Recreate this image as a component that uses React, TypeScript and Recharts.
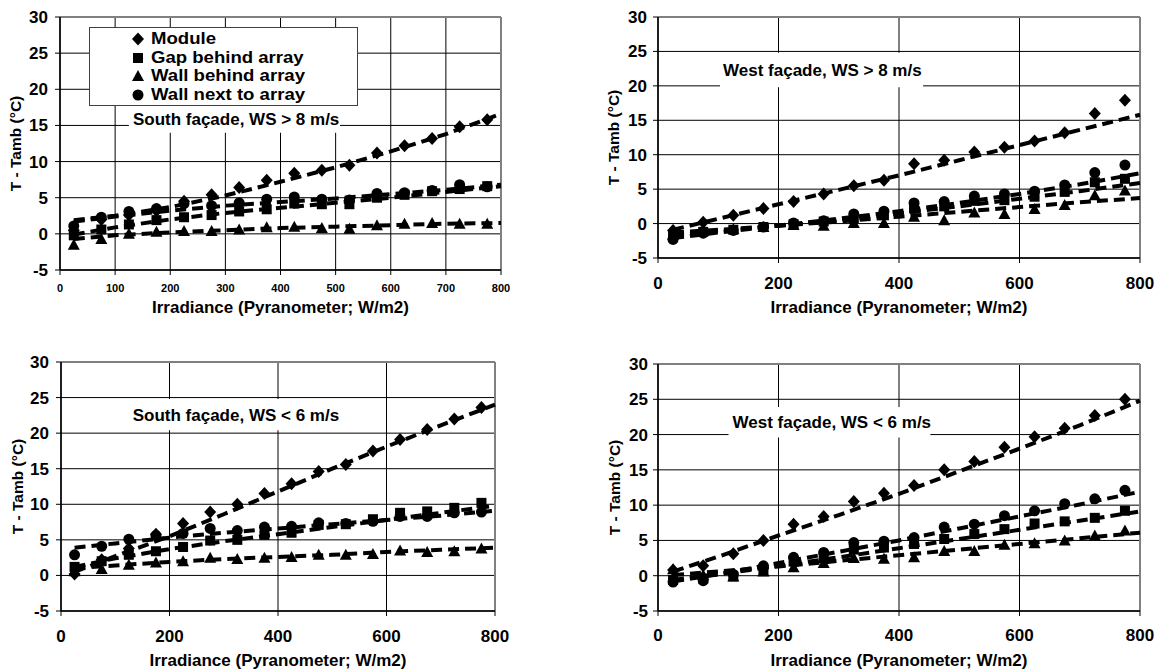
import {
  ScatterChart,
  Scatter,
  XAxis,
  YAxis,
  CartesianGrid,
  ReferenceArea,
  ReferenceLine,
  Legend,
} from 'recharts'

// measured irradiance bins (W/m2) and the x of the read-off trendline points
const IRRADIANCE = [25, 75, 125, 175, 225, 275, 325, 375, 425, 475, 525, 575, 625, 675, 725, 775]
const TREND_IRRADIANCE = [25, 100, 200, 300, 400, 500, 600, 700, 800]

const X_TICKS_100 = [0, 100, 200, 300, 400, 500, 600, 700, 800]
const X_TICKS_200 = [0, 200, 400, 600, 800]
const Y_TICKS = [-5, 0, 5, 10, 15, 20, 25, 30]

const SERIES_NAMES = ['Module', 'Gap behind array', 'Wall behind array', 'Wall next to array']

// South façade, WS > 8 m/s
const SOUTH_HI_MODULE = [0.5, 2.0, 2.6, 3.2, 4.5, 5.4, 6.4, 7.4, 8.4, 8.8, 9.5, 11.2, 12.2, 13.2, 14.8, 15.8]
const SOUTH_HI_GAP = [-0.2, 0.6, 1.3, 1.9, 2.3, 2.6, 3.1, 3.4, 4.2, 4.1, 4.1, 5.0, 5.4, 5.9, 6.2, 6.6]
const SOUTH_HI_WALL_BEHIND = [-1.5, -0.7, 0.0, 0.3, 0.4, 0.4, 0.6, 0.9, 1.0, 0.8, 0.7, 1.2, 1.4, 1.5, 1.4, 1.4]
const SOUTH_HI_WALL_NEXT = [1.1, 2.3, 3.1, 3.5, 4.2, 3.9, 4.3, 4.8, 5.1, 4.8, 4.7, 5.6, 5.7, 6.0, 6.8, 6.5]
const SOUTH_HI_MODULE_TREND = [1.9, 2.5, 3.7, 5.3, 7.2, 9.2, 11.4, 13.8, 16.6]
const SOUTH_HI_GAP_TREND = [-0.1, 0.9, 2.0, 2.9, 3.6, 4.3, 5.0, 5.8, 6.6]
const SOUTH_HI_WALL_BEHIND_TREND = [-0.7, -0.2, 0.2, 0.5, 0.8, 1.0, 1.2, 1.4, 1.5]
const SOUTH_HI_WALL_NEXT_TREND = [1.7, 2.4, 3.2, 3.9, 4.4, 4.9, 5.5, 6.1, 6.8]

// West façade, WS > 8 m/s
const WEST_HI_MODULE = [-1.0, 0.2, 1.2, 2.2, 3.2, 4.3, 5.5, 6.3, 8.7, 9.2, 10.4, 11.1, 12.0, 13.2, 16.0, 17.9]
const WEST_HI_GAP = [-1.7, -1.2, -0.9, -0.5, -0.1, 0.3, 0.8, 1.2, 2.2, 2.5, 3.3, 3.4, 3.9, 4.6, 6.0, 6.5]
const WEST_HI_WALL_BEHIND = [-1.6, -1.0, -0.8, -0.5, -0.2, -0.3, 0.1, 0.1, 1.0, 0.5, 1.6, 1.4, 2.1, 2.7, 4.1, 4.8]
const WEST_HI_WALL_NEXT = [-2.3, -1.4, -1.0, -0.5, 0.1, 0.4, 1.4, 1.8, 3.0, 3.2, 4.0, 4.3, 4.7, 5.6, 7.4, 8.5]
const WEST_HI_MODULE_TREND = [-0.9, 0.7, 2.8, 4.9, 7.0, 9.2, 11.4, 13.6, 15.8]
const WEST_HI_GAP_TREND = [-1.7, -1.1, -0.3, 0.5, 1.5, 2.5, 3.6, 4.7, 5.9]
const WEST_HI_WALL_BEHIND_TREND = [-1.3, -0.9, -0.3, 0.3, 1.0, 1.7, 2.4, 3.1, 3.7]
const WEST_HI_WALL_NEXT_TREND = [-2.1, -1.3, -0.3, 0.7, 1.8, 3.0, 4.3, 5.7, 7.3]

// South façade, WS < 6 m/s
const SOUTH_LO_MODULE = [0.2, 2.2, 3.8, 5.8, 7.3, 8.9, 10.0, 11.5, 12.9, 14.6, 15.6, 17.5, 19.1, 20.5, 22.0, 23.6]
const SOUTH_LO_GAP = [1.2, 2.0, 2.9, 3.4, 4.0, 4.9, 5.0, 5.7, 6.0, 7.1, 7.2, 7.9, 8.8, 9.0, 9.5, 10.2]
const SOUTH_LO_WALL_BEHIND = [0.6, 0.9, 1.5, 1.8, 2.0, 2.5, 2.3, 2.5, 2.6, 2.9, 2.9, 3.0, 3.5, 3.3, 3.4, 3.8]
const SOUTH_LO_WALL_NEXT = [2.9, 4.1, 5.1, 5.6, 5.9, 6.6, 6.3, 6.8, 6.9, 7.4, 7.3, 7.6, 8.3, 8.3, 8.8, 8.9]
const SOUTH_LO_MODULE_TREND = [0.5, 2.7, 5.5, 8.6, 11.8, 15.0, 18.1, 21.1, 24.0]
const SOUTH_LO_GAP_TREND = [1.2, 2.4, 3.7, 4.8, 5.8, 6.8, 7.8, 8.8, 9.8]
const SOUTH_LO_WALL_BEHIND_TREND = [1.0, 1.4, 1.9, 2.3, 2.6, 2.9, 3.3, 3.6, 3.9]
const SOUTH_LO_WALL_NEXT_TREND = [3.9, 4.5, 5.3, 6.0, 6.6, 7.2, 7.8, 8.4, 9.1]

// West façade, WS < 6 m/s
const WEST_LO_MODULE = [0.8, 1.4, 3.1, 5.0, 7.3, 8.4, 10.5, 11.7, 12.8, 15.0, 16.2, 18.2, 19.7, 20.9, 22.7, 25.0]
const WEST_LO_GAP = [-0.6, -0.4, -0.1, 0.8, 2.0, 2.5, 3.7, 4.0, 4.5, 5.2, 5.9, 6.6, 7.4, 7.7, 8.2, 9.2]
const WEST_LO_WALL_BEHIND = [0.9, 0.1, -0.1, 0.6, 1.2, 1.8, 2.5, 2.4, 2.6, 3.5, 3.5, 4.4, 4.6, 5.0, 5.7, 6.4]
const WEST_LO_WALL_NEXT = [-0.9, -0.7, 0.2, 1.4, 2.6, 3.3, 4.7, 4.9, 5.4, 6.9, 7.3, 8.5, 9.2, 10.2, 10.9, 12.1]
const WEST_LO_MODULE_TREND = [0.6, 2.7, 5.7, 8.6, 11.6, 14.8, 18.0, 21.3, 24.8]
const WEST_LO_GAP_TREND = [-0.6, 0.2, 1.4, 2.6, 3.9, 5.2, 6.5, 7.8, 9.1]
const WEST_LO_WALL_BEHIND_TREND = [0.1, 0.6, 1.3, 2.1, 2.9, 3.7, 4.5, 5.3, 6.1]
const WEST_LO_WALL_NEXT_TREND = [-0.8, 0.2, 1.8, 3.4, 5.0, 6.7, 8.4, 10.1, 11.9]

const FONT = '"Liberation Sans", Arial, Helvetica, sans-serif'
const GRID = '#000'
const FRAME = '#808080'

const toPoints = (xs: number[], ys: number[]) => xs.map((x, i) => ({ x, y: ys[i] }))

// marker shapes
function Diamond({ cx, cy }: any) {
  return <polygon points={`${cx},${cy - 6.5} ${cx + 6},${cy} ${cx},${cy + 6.5} ${cx - 6},${cy}`} fill="#000" />
}
function Square({ cx, cy }: any) {
  return <rect x={cx - 5} y={cy - 5} width={10} height={10} fill="#000" />
}
function Triangle({ cx, cy }: any) {
  return <polygon points={`${cx},${cy - 6} ${cx + 6},${cy + 5} ${cx - 6},${cy + 5}`} fill="#000" />
}
function Dot({ cx, cy }: any) {
  return <circle cx={cx} cy={cy} r={5.5} fill="#000" />
}
const SHAPES = [Diamond, Square, Triangle, Dot]
const NoMarker = () => <g />

function LegendBox() {
  return (
    <div
      style={{
        boxSizing: 'border-box',
        width: 269,
        height: 79,
        border: '1px solid #404040',
        background: '#fff',
        paddingTop: 2,
        fontFamily: FONT,
        fontSize: 16,
        fontWeight: 700,
        color: '#000',
      }}
    >
      {SERIES_NAMES.map((name, i) => {
        const Shape = SHAPES[i]
        return (
          <div key={name} style={{ display: 'flex', alignItems: 'center', height: 18.5, whiteSpace: 'nowrap' }}>
            <svg width={14} height={14} style={{ marginLeft: 41, marginRight: 6, flex: 'none' }}>
              <Shape cx={7} cy={7} />
            </svg>
            <span style={{ display: 'inline-block', transform: 'scaleX(1.16)', transformOrigin: 'left center' }}>
              {name}
            </span>
          </div>
        )
      })}
    </div>
  )
}

type PanelProps = {
  left: number
  top: number
  width: number
  height: number
  margin: { top: number; right: number; bottom: number; left: number }
  yAxisWidth: number
  xAxisHeight: number
  xTicks: number[]
  xTickSize: number
  xTickMargin: number
  yTickMargin: number
  xTitleOffset: number
  yTitleOffset: number
  series: number[][]
  trends: number[][]
  note: string
  noteBox: [number, number, number, number]
  noteOffset: number
  legend?: boolean
}

function Panel(p: PanelProps) {
  const [x1, x2, y1, y2] = p.noteBox
  return (
    <div style={{ position: 'absolute', left: p.left, top: p.top }}>
      <ScatterChart width={p.width} height={p.height} margin={p.margin}>
        <CartesianGrid stroke={GRID} strokeWidth={1} />
        <XAxis
          type="number"
          dataKey="x"
          domain={[0, 800]}
          ticks={p.xTicks}
          interval={0}
          height={p.xAxisHeight}
          tickSize={5}
          tickMargin={p.xTickMargin}
          tick={{ fontSize: p.xTickSize, fontWeight: 700, fill: '#000', fontFamily: FONT }}
          axisLine={{ stroke: '#000', strokeWidth: 1.5 }}
          tickLine={{ stroke: '#000' }}
          label={{
            value: 'Irradiance (Pyranometer; W/m2)',
            position: 'insideBottom',
            offset: p.xTitleOffset,
            fontSize: 17,
            fontWeight: 700,
            fill: '#000',
            fontFamily: FONT,
          }}
        />
        <YAxis
          type="number"
          dataKey="y"
          domain={[-5, 30]}
          ticks={Y_TICKS}
          interval={0}
          width={p.yAxisWidth}
          tickSize={5}
          tickMargin={p.yTickMargin}
          tick={{ fontSize: 17, fontWeight: 700, fill: '#000', fontFamily: FONT }}
          axisLine={{ stroke: '#000', strokeWidth: 1.5 }}
          tickLine={{ stroke: '#000' }}
          label={{
            value: 'T - Tamb (°C)',
            angle: -90,
            position: 'insideLeft',
            offset: p.yTitleOffset,
            fontSize: 15.5,
            fontWeight: 700,
            fill: '#000',
            fontFamily: FONT,
            style: { textAnchor: 'middle' },
          }}
        />
        <ReferenceLine y={30} stroke={FRAME} strokeWidth={2} />
        <ReferenceLine x={800} stroke={FRAME} strokeWidth={2} />
        <ReferenceArea
          x1={x1}
          x2={x2}
          y1={y1}
          y2={y2}
          fill="#fff"
          fillOpacity={1}
          stroke="none"
          ifOverflow="visible"
          label={{
            value: p.note,
            position: 'insideLeft',
            offset: p.noteOffset,
            fontSize: 17,
            fontWeight: 700,
            fill: '#000',
            fontFamily: FONT,
          }}
        />
        {p.trends.map((ys, i) => (
          <Scatter
            key={`trend-${i}`}
            name={`${SERIES_NAMES[i]} trend`}
            data={toPoints(TREND_IRRADIANCE, ys)}
            shape={NoMarker}
            line={{ stroke: '#000', strokeWidth: 4, strokeDasharray: '11 6' }}
            legendType="none"
            isAnimationActive={false}
          />
        ))}
        {p.series.map((ys, i) => {
          const Shape = SHAPES[i]
          return (
            <Scatter
              key={SERIES_NAMES[i]}
              name={SERIES_NAMES[i]}
              data={toPoints(IRRADIANCE, ys)}
              shape={(props: any) => <Shape cx={props.cx} cy={props.cy} />}
              isAnimationActive={false}
            />
          )
        })}
        {p.legend && (
          <Legend
            layout="vertical"
            align="center"
            verticalAlign="middle"
            content={() => <LegendBox />}
            wrapperStyle={{ left: 89, top: 27, width: 269, height: 79 }}
          />
        )}
      </ScatterChart>
    </div>
  )
}

export default function App() {
  return (
    <div
      style={{
        position: 'absolute',
        left: 0,
        top: 0,
        width: 1156,
        height: 671,
        background: '#fff',
        fontFamily: FONT,
      }}
    >
      <Panel
        left={0}
        top={0}
        width={560}
        height={330}
        margin={{ top: 17, right: 59, bottom: 5, left: 0 }}
        yAxisWidth={60}
        xAxisHeight={55}
        xTicks={X_TICKS_100}
        xTickSize={11}
        xTickMargin={9}
        yTickMargin={7}
        xTitleOffset={12}
        yTitleOffset={15}
        series={[SOUTH_HI_MODULE, SOUTH_HI_GAP, SOUTH_HI_WALL_BEHIND, SOUTH_HI_WALL_NEXT]}
        trends={[SOUTH_HI_MODULE_TREND, SOUTH_HI_GAP_TREND, SOUTH_HI_WALL_BEHIND_TREND, SOUTH_HI_WALL_NEXT_TREND]}
        note="South façade, WS > 8 m/s"
        noteBox={[125, 508, 14.0, 17.7]}
        noteOffset={4}
        legend
      />
      <Panel
        left={580}
        top={0}
        width={576}
        height={330}
        margin={{ top: 17, right: 16, bottom: 10, left: 0 }}
        yAxisWidth={78}
        xAxisHeight={62}
        xTicks={X_TICKS_200}
        xTickSize={17}
        xTickMargin={14}
        yTickMargin={6}
        xTitleOffset={7}
        yTitleOffset={33}
        series={[WEST_HI_MODULE, WEST_HI_GAP, WEST_HI_WALL_BEHIND, WEST_HI_WALL_NEXT]}
        trends={[WEST_HI_MODULE_TREND, WEST_HI_GAP_TREND, WEST_HI_WALL_BEHIND_TREND, WEST_HI_WALL_NEXT_TREND]}
        note="West façade, WS > 8 m/s"
        noteBox={[103, 440, 19.8, 24.8]}
        noteOffset={3}
      />
      <Panel
        left={0}
        top={330}
        width={560}
        height={341}
        margin={{ top: 32, right: 65, bottom: 2, left: 0 }}
        yAxisWidth={61}
        xAxisHeight={58}
        xTicks={X_TICKS_200}
        xTickSize={17}
        xTickMargin={14}
        yTickMargin={7}
        xTitleOffset={3}
        yTitleOffset={17}
        series={[SOUTH_LO_MODULE, SOUTH_LO_GAP, SOUTH_LO_WALL_BEHIND, SOUTH_LO_WALL_NEXT]}
        trends={[SOUTH_LO_MODULE_TREND, SOUTH_LO_GAP_TREND, SOUTH_LO_WALL_BEHIND_TREND, SOUTH_LO_WALL_NEXT_TREND]}
        note="South façade, WS < 6 m/s"
        noteBox={[123, 514, 20.4, 24.8]}
        noteOffset={5}
      />
      <Panel
        left={580}
        top={330}
        width={576}
        height={341}
        margin={{ top: 34, right: 16, bottom: 2, left: 0 }}
        yAxisWidth={78}
        xAxisHeight={58}
        xTicks={X_TICKS_200}
        xTickSize={17}
        xTickMargin={13}
        yTickMargin={5}
        xTitleOffset={3}
        yTitleOffset={34}
        series={[WEST_LO_MODULE, WEST_LO_GAP, WEST_LO_WALL_BEHIND, WEST_LO_WALL_NEXT]}
        trends={[WEST_LO_MODULE_TREND, WEST_LO_GAP_TREND, WEST_LO_WALL_BEHIND_TREND, WEST_LO_WALL_NEXT_TREND]}
        note="West façade, WS < 6 m/s"
        noteBox={[117, 452, 19.6, 23.9]}
        noteOffset={4}
      />
    </div>
  )
}
